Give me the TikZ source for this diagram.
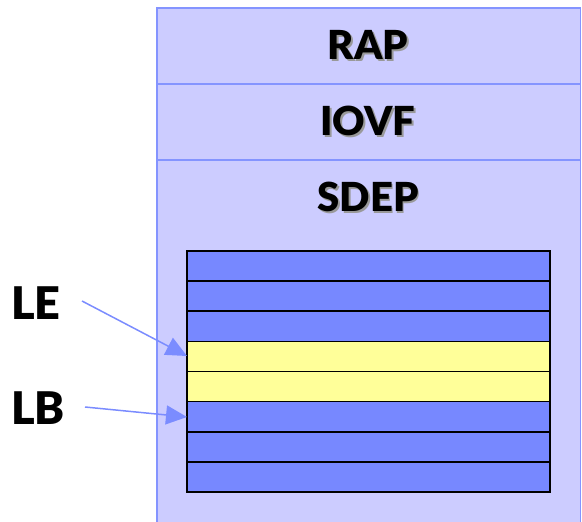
\documentclass[tikz,border=0pt]{standalone}
\usepackage{fontspec}
\setmainfont{Lato}[BoldFont={Lato Black}]
\usetikzlibrary{arrows.meta}
\definecolor{panel}{HTML}{CCCCFF}
\definecolor{panelline}{HTML}{8494FF}
\definecolor{cellblue}{HTML}{7788FF}
\definecolor{cellyellow}{HTML}{FFFF99}
\definecolor{arrowblue}{HTML}{7B8CFF}
\newcommand{\shadowed}[1]{\makebox[0pt][l]{\hspace{1.8pt}\raisebox{-1.8pt}{\color{black!40}#1}}#1}
\tikzset{
  title/.style={font=\fontsize{40}{44}\selectfont\bfseries, inner sep=0pt, anchor=center},
  side/.style={font=\fontsize{45}{48}\selectfont\bfseries, inner sep=0pt, anchor=west},
  cell/.style={draw=black, line width=1.6pt},
  pointer/.style={draw=arrowblue, line width=1.5pt, -{Triangle[length=21pt,width=19pt]}}
}
\begin{document}
\begin{tikzpicture}[x=1pt,y=-1pt]
\useasboundingbox (0,0) rectangle (582,522);
% outer panel, open at the bottom
\fill[panel] (157,8) rectangle (580.5,522);
\draw[panelline, line width=1.5pt] (157,522) -- (157,8) -- (580.5,8) -- (580.5,522);
\draw[panelline, line width=1.5pt] (157,84) -- (580.5,84);
\draw[panelline, line width=1.5pt] (157,160) -- (580.5,160);
% section titles with a soft drop shadow
\node[title] (tRAP) at (368,46) {\shadowed{RAP}};
\node[title] (tIOVF) at (368,122) {\shadowed{IOVF}};
\node[title] (tSDEP) at (368,198) {\shadowed{SDEP}};
% stack of eight cells
\foreach \i/\c in {0/cellblue,1/cellblue,2/cellblue,3/cellyellow,4/cellyellow,5/cellblue,6/cellblue,7/cellblue}{
  \filldraw[cell, fill=\c] (187,{251+\i*30.125}) rectangle (550,{251+(\i+1)*30.125});
}
\coordinate (le) at (187,356);
\coordinate (lb) at (187,417);
\node[side] (LE) at (11,303) {LE};
\node[side] (LB) at (11,408) {LB};
\coordinate (lestart) at (82,301);
\coordinate (lbstart) at (85,407);
\draw[pointer] (lestart) -- (le);
\draw[pointer] (lbstart) -- (lb);
\end{tikzpicture}
\end{document}
